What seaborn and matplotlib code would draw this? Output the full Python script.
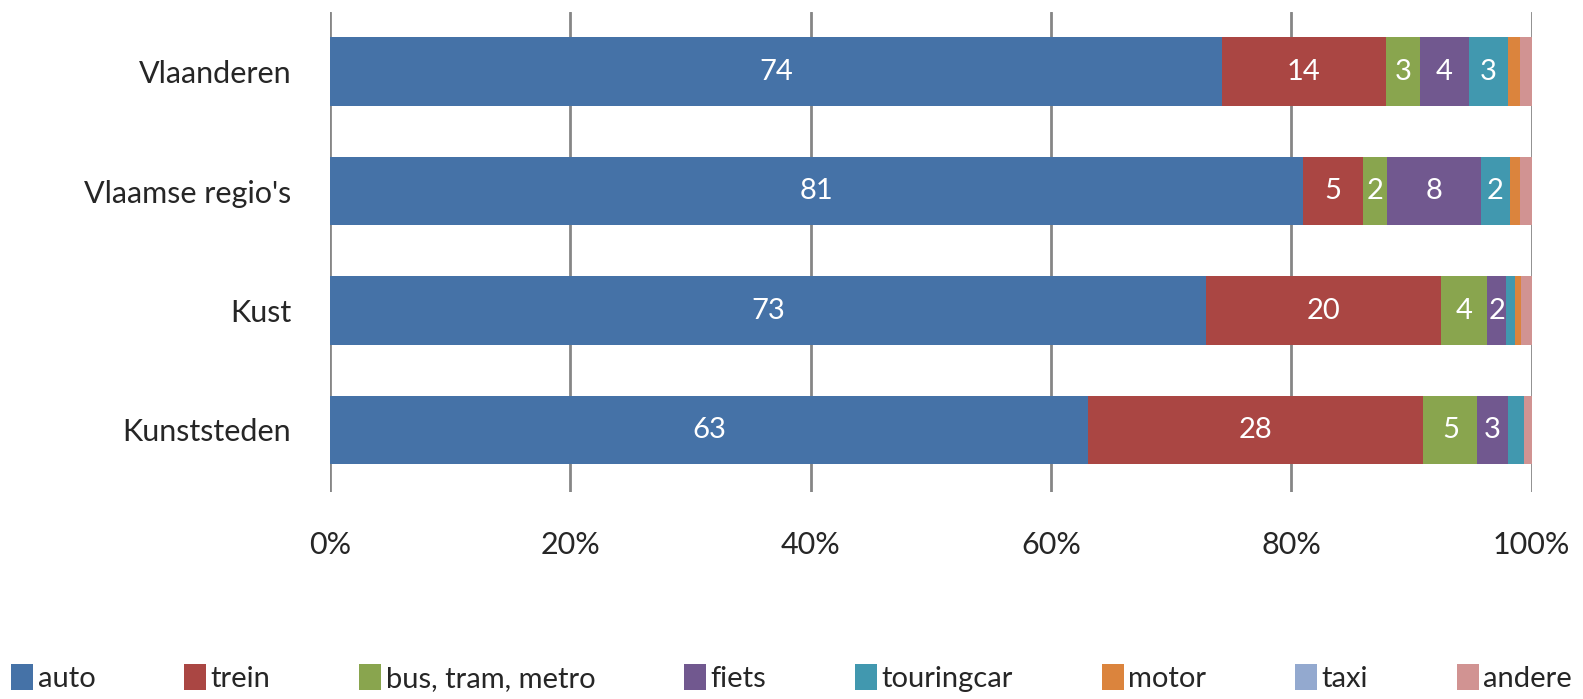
import numpy as np
import pandas as pd
import matplotlib
import matplotlib.pyplot as plt
from matplotlib.patches import Patch
import seaborn as sns

matplotlib.use('Agg')

# Data (percent share of transport mode per destination)
regions = ['Vlaanderen', "Vlaamse regio's", 'Kust', 'Kunststeden']
modes = ['auto', 'trein', 'bus, tram, metro', 'fiets', 'touringcar', 'motor', 'taxi', 'andere']

auto = [74.2, 81.0, 72.9, 63.1]
trein = [13.7, 5.0, 19.6, 27.9]
bus = [2.8, 2.0, 3.8, 4.5]
fiets = [4.1, 7.8, 1.6, 2.5]
touringcar = [3.2, 2.4, 0.7, 1.4]
motor = [1.0, 0.8, 0.5, 0.0]
taxi = [0.0, 0.0, 0.0, 0.0]
andere = [1.0, 1.0, 1.0, 0.6]

mode_colors = ['#4572A7', '#AA4643', '#89A54E', '#71588F',
               '#4198AF', '#DB843D', '#93A9CF', '#D19392']

data = pd.DataFrame({'regio': regions, 'auto': auto, 'trein': trein,
                     'bus, tram, metro': bus, 'fiets': fiets,
                     'touringcar': touringcar, 'motor': motor,
                     'taxi': taxi, 'andere': andere})

sns.set_style('white')
plt.rcParams['font.family'] = ['Lato', 'DejaVu Sans']

fig = plt.figure(figsize=(15.83, 6.99), dpi=100)
ax = fig.add_axes([0.2085, 0.296, 0.759, 0.687])

# cumulative sums -> draw the longest layer first so the stack shows through
cum = data[modes].cumsum(axis=1)
for mode, color in reversed(list(zip(modes, mode_colors))):
    sns.barplot(x=cum[mode], y=data['regio'], color=color, orient='h',
                width=0.575, linewidth=0, saturation=1, ax=ax, zorder=3)

# value labels in the middle of each segment (round half up, like Excel)
for i, row in data.iterrows():
    start = 0
    for mode in modes:
        val = row[mode]
        if val >= 1.5:
            ax.text(start + val / 2, i, str(int(val + 0.5)), ha='center', va='center',
                    color='white', fontsize=21, zorder=4)
        start += val

ax.set_xlim(0, 100)
ax.set_ylim(3.52, -0.5)
ax.set_xticks(np.arange(0, 101, 20))
ax.set_xticklabels([f"{t}%" for t in range(0, 101, 20)], fontsize=22)
ax.tick_params(axis='x', length=0, pad=28)
ax.tick_params(axis='y', length=0, pad=28, labelsize=22)
ax.set_xlabel('')
ax.set_ylabel('')
ax.grid(axis='x', color='#868686', linewidth=2, zorder=0)
ax.grid(axis='y', visible=False)
for s in ax.spines.values():
    s.set_visible(False)

handles = [Patch(facecolor=c, edgecolor='none', label=m) for m, c in zip(modes, mode_colors)]
fig.legend(handles=handles, loc='lower center', ncol=8, frameon=False,
           fontsize=21, handlelength=0.75, handleheight=1.0, handletextpad=0.15,
           columnspacing=3.05, bbox_to_anchor=(0.5, -0.028))

plt.savefig('out.png', dpi=100)
plt.close()
